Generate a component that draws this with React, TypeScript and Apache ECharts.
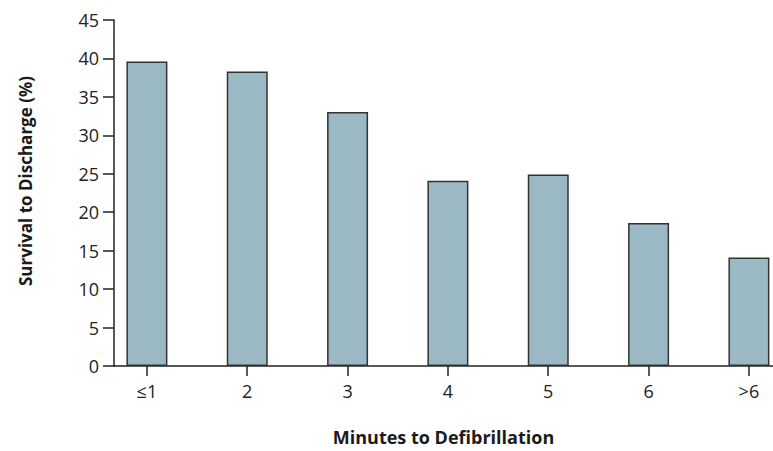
import React, { useEffect, useRef } from "react";
import * as echarts from "echarts";

const categories = ["≤1", "2", "3", "4", "5", "6", ">6"];
const survival = [39.6, 38.3, 33.05, 24.1, 24.9, 18.6, 14.1];
const yTicks = { min: 0, max: 45, interval: 5 };
const positions = [0, 1, 2, 3, 4, 5, 6];

const FONT = "'Open Sans', 'DejaVu Sans', sans-serif";

export default function App() {
  const ref = useRef<HTMLDivElement>(null);
  useEffect(() => {
    if (!ref.current) return;
    const chart = echarts.init(ref.current, null, { renderer: "svg" });
    chart.setOption({
      animation: false,
      backgroundColor: "#ffffff",
      grid: { left: 114, right: 0, top: 20, bottom: 79, containLabel: false },
      xAxis: {
        type: "value",
        min: -0.328,
        max: 6.24,
        name: "Minutes to Defibrillation",
        nameLocation: "middle",
        nameGap: 62,
        nameTextStyle: { fontFamily: FONT, fontSize: 18, fontWeight: "bold", color: "#1a1a1a" },
        splitLine: { show: false },
        axisLine: { show: true, onZero: false, lineStyle: { color: "#222", width: 1.5 } },
        axisTick: {
          show: true,
          length: 10,
          customValues: positions,
          lineStyle: { color: "#222", width: 1.5 },
        },
        axisLabel: {
          customValues: positions,
          margin: 16,
          fontFamily: FONT,
          fontSize: 18,
          color: "#222",
          formatter: (v: number) => categories[Math.round(v)] ?? "",
        },
      },
      yAxis: {
        type: "value",
        min: yTicks.min,
        max: yTicks.max,
        interval: yTicks.interval,
        name: "Survival to Discharge (%)",
        nameLocation: "middle",
        nameGap: 80,
        nameTextStyle: {
          fontFamily: FONT,
          fontSize: 17,
          fontWeight: "bold",
          color: "#1a1a1a",
          padding: [0, 0, 0, 24],
        },
        splitLine: { show: false },
        axisLine: { show: true, onZero: false, lineStyle: { color: "#222", width: 1.5 } },
        axisTick: { show: true, length: 11, lineStyle: { color: "#222", width: 1.5 } },
        axisLabel: { margin: 15, fontFamily: FONT, fontSize: 18, color: "#222" },
      },
      series: [
        {
          type: "bar",
          barWidth: 41,
          data: survival.map((v, i) => [positions[i], v]),
          itemStyle: { color: "#9bb8c5", borderColor: "#333", borderWidth: 1.5 },
        },
      ],
    });
    return () => chart.dispose();
  }, []);
  return (
    <div
      ref={ref}
      style={{ position: "fixed", left: 0, top: 0, width: 773, height: 451 }}
    />
  );
}
